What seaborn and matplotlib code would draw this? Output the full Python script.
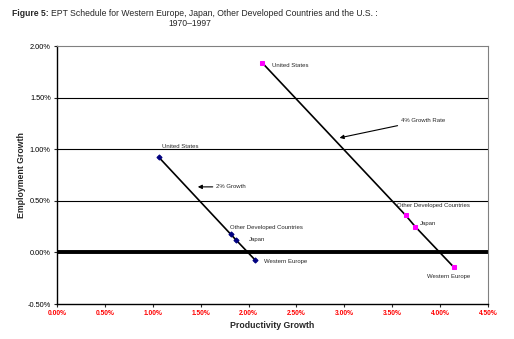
import matplotlib
matplotlib.use("Agg")
import matplotlib.pyplot as plt
import seaborn as sns
import pandas as pd
from matplotlib.ticker import FuncFormatter

sns.set_style("white")
plt.rcParams['font.family'] = ['Liberation Sans', 'DejaVu Sans']

# Data (values in percent)
regions = ["United States", "Other Developed Countries", "Japan", "Western Europe"]
prod_2pct = [1.065, 1.815, 1.87, 2.07]
emp_2pct = [0.92, 0.175, 0.12, -0.075]
prod_4pct = [2.14, 3.64, 3.74, 4.14]
emp_4pct = [1.84, 0.36, 0.25, -0.14]
x_ticks = [0.0, 0.5, 1.0, 1.5, 2.0, 2.5, 3.0, 3.5, 4.0, 4.5]
y_ticks = [-0.5, 0.0, 0.5, 1.0, 1.5, 2.0]

df = pd.DataFrame({
    "region": regions * 2,
    "prod": prod_2pct + prod_4pct,
    "emp": emp_2pct + emp_4pct,
    "series": ["2% Growth"] * 4 + ["4% Growth Rate"] * 4,
})

fig = plt.figure(figsize=(5.14, 3.39), dpi=100)
ax = fig.add_axes([0.1109, 0.1032, 0.8385, 0.7611])

ax.set_xlim(0, 4.5)
ax.set_ylim(-0.5, 2.0)

for v in [0.5, 1.0, 1.5]:
    ax.axhline(v, color="black", lw=0.8, zorder=1)
ax.axhline(0.0, color="black", lw=2.8, zorder=1)

sns.lineplot(data=df, x="prod", y="emp", hue="series", style="series",
             markers={"2% Growth": "D", "4% Growth Rate": "s"},
             dashes=False, sort=False, ax=ax, legend=False,
             palette={"2% Growth": "black", "4% Growth Rate": "black"},
             lw=1.2, markersize=2.6, zorder=3)

# recolor markers
lines = ax.get_lines()[-2:]
lines[0].set_markerfacecolor("#000080"); lines[0].set_markeredgecolor("#000080")
lines[1].set_markerfacecolor("#FF00FF"); lines[1].set_markeredgecolor("#FF00FF")

# point labels
lab_fs = 4.3
lab_2 = [(1.10, 1.03), (1.81, 0.24), (2.00, 0.125), (2.16, -0.09)]
lab_4 = [(2.24, 1.81), (3.55, 0.45), (3.79, 0.28), (3.86, -0.23)]
for name, (lx, ly) in zip(regions, lab_2):
    ax.text(lx, ly, name, fontsize=lab_fs, va="center", ha="left")
for name, (lx, ly) in zip(regions, lab_4):
    ax.text(lx, ly, name, fontsize=lab_fs, va="center", ha="left")

ax.annotate("2% Growth", xy=(1.47, 0.635), xytext=(1.66, 0.635),
            fontsize=lab_fs, va="center", ha="left",
            arrowprops=dict(arrowstyle="-|>", color="black", lw=0.8,
                            mutation_scale=6, shrinkA=0, shrinkB=0))
ax.annotate("4% Growth Rate", xy=(2.95, 1.11), xytext=(3.59, 1.28),
            fontsize=lab_fs, va="center", ha="left",
            arrowprops=dict(arrowstyle="-|>", color="black", lw=0.8,
                            mutation_scale=6, shrinkA=0, shrinkB=0))

ax.set_xticks(x_ticks)
ax.set_yticks(y_ticks)
ax.xaxis.set_major_formatter(FuncFormatter(lambda v, p: f"{v:.2f}%"))
ax.yaxis.set_major_formatter(FuncFormatter(lambda v, p: f"{v:.2f}%"))
ax.tick_params(axis="x", labelsize=4.8, labelcolor="red", length=2.5,
               width=0.8, direction="out", bottom=True, pad=2)
ax.tick_params(axis="y", labelsize=5.3, labelcolor="black", length=2.5,
               width=0.8, direction="out", left=True, pad=2)
for lbl in ax.get_xticklabels():
    lbl.set_fontweight("bold")

ax.set_xlabel("Productivity Growth", fontsize=6.3, fontweight="bold", labelpad=3)
ax.set_ylabel("Employment Growth", fontsize=6.3, fontweight="bold", labelpad=1)

for side in ["left", "bottom"]:
    ax.spines[side].set_color("black")
    ax.spines[side].set_linewidth(1.0)
for side in ["top", "right"]:
    ax.spines[side].set_color("#808080")
    ax.spines[side].set_linewidth(0.8)
ax.spines["top"].set_visible(True)
ax.spines["right"].set_visible(True)

t1 = fig.text(12/514, 1 - 13/339, "Figure 5:", fontsize=6.2, fontweight="bold",
              va="center", ha="left")
fig.canvas.draw()
bb = t1.get_window_extent(renderer=fig.canvas.get_renderer())
x_after = (bb.x1 + 2) / fig.bbox.width
fig.text(x_after, 1 - 13/339,
         "EPT Schedule for Western Europe, Japan, Other Developed Countries and the U.S. :",
         fontsize=6.2, va="center", ha="left")
fig.text(190/514, 1 - 24/339, "1970–1997", fontsize=6.2, va="center", ha="center")

fig.savefig("out.png", dpi=100)
